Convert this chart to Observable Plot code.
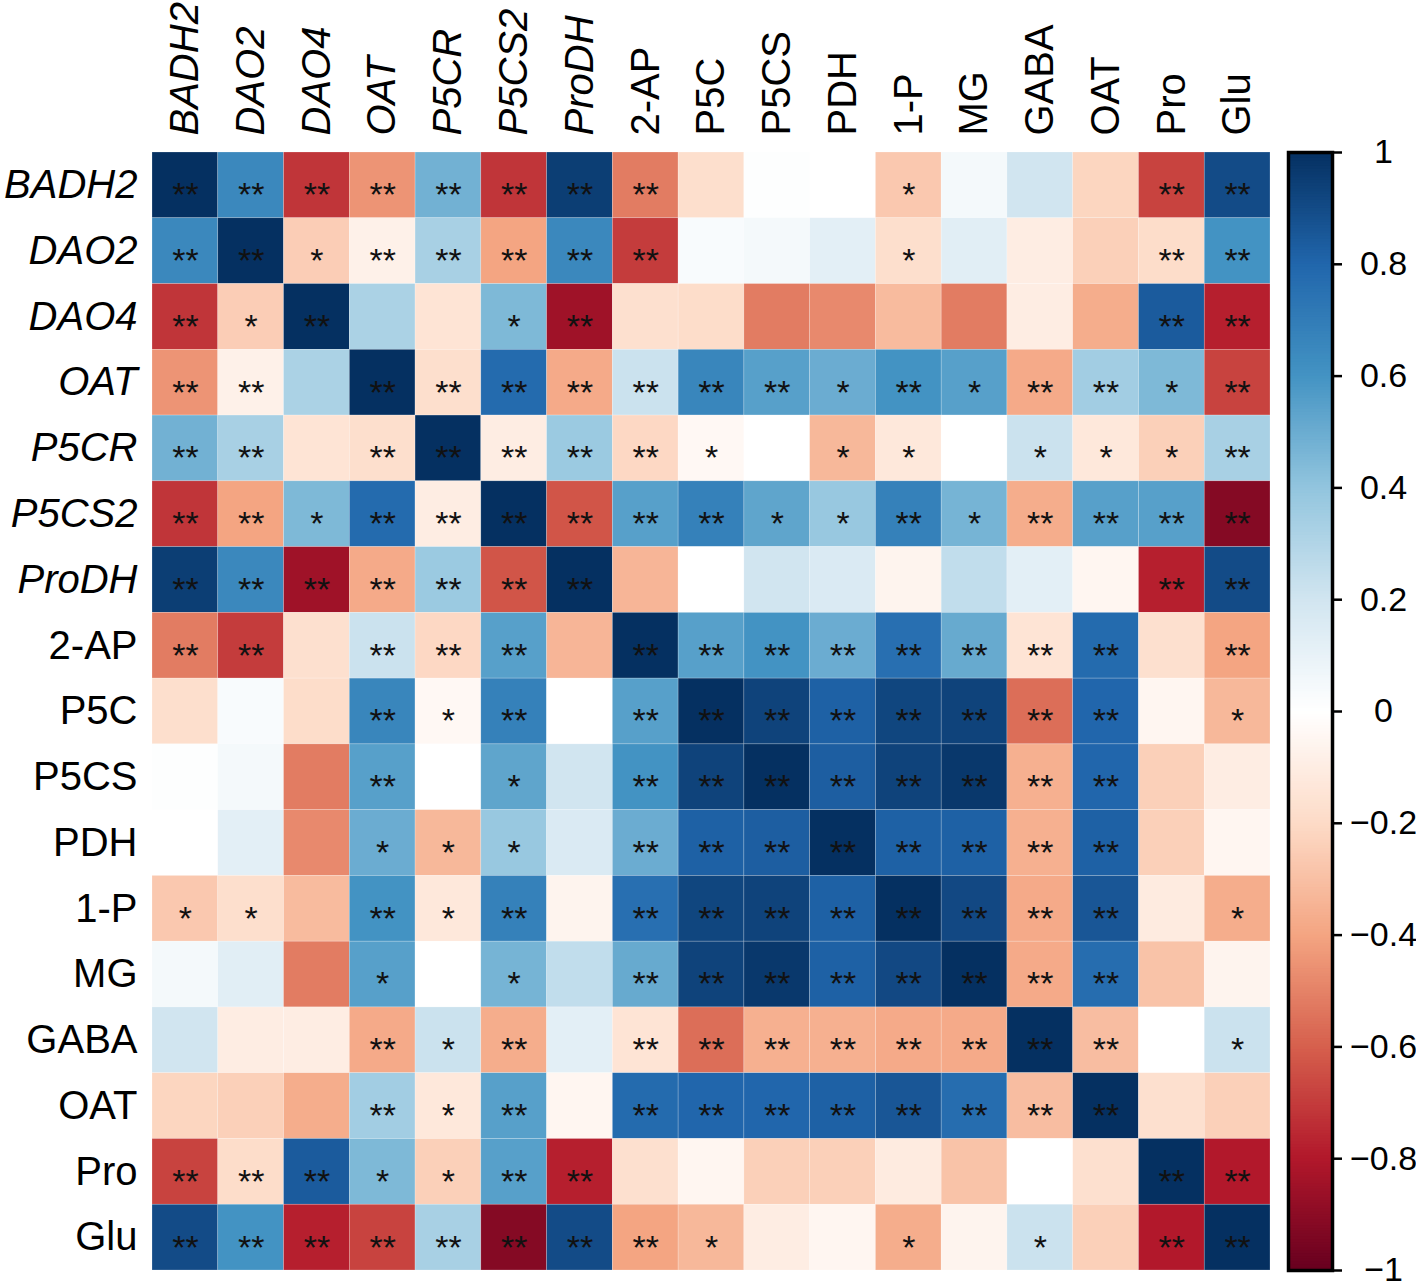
<!DOCTYPE html>
<html><head><meta charset="utf-8">
<script src="https://cdn.jsdelivr.net/npm/d3@7"></script>
<script src="https://cdn.jsdelivr.net/npm/@observablehq/plot@0.6"></script>
<style>
body{margin:0;background:#fff;}
#wrap{position:relative;width:1416px;height:1284px;}
#main{position:absolute;left:0;top:0;}
#cbar{position:absolute;left:1270px;top:0;}
</style></head><body><div id="wrap"><div id="main"></div><div id="cbar"></div></div>
<script>
// Variables (genes italic, metabolites upright)
const genes = ["BADH2","DAO2","DAO4","OAT","P5CR","P5CS2","ProDH"];
const metabolites = ["2-AP","P5C","P5CS","PDH","1-P","MG","GABA","OAT","Pro","Glu"];

// Correlation coefficients, one row per variable (column order = genes then metabolites)
const r_BADH2 = [1, 0.65, -0.72, -0.45, 0.48, -0.72, 0.95, -0.52, -0.18, 0.01, 0, -0.27, 0.05, 0.2, -0.22, -0.68, 0.9];
const r_DAO2  = [0.65, 1, -0.25, -0.08, 0.33, -0.4, 0.65, -0.7, 0.03, 0.05, 0.12, -0.18, 0.13, -0.1, -0.24, -0.19, 0.6];
const r_DAO4  = [-0.72, -0.25, 1, 0.32, -0.15, 0.45, -0.85, -0.17, -0.19, -0.52, -0.48, -0.32, -0.52, -0.1, -0.37, 0.84, -0.78];
const r_OATg  = [-0.45, -0.08, 0.32, 1, -0.18, 0.78, -0.38, 0.22, 0.66, 0.55, 0.5, 0.6, 0.55, -0.38, 0.35, 0.45, -0.68];
const r_P5CR  = [0.48, 0.33, -0.15, -0.18, 1, -0.1, 0.37, -0.21, -0.04, 0, -0.33, -0.13, 0, 0.22, -0.13, -0.24, 0.33];
const r_P5CS2 = [-0.72, -0.4, 0.45, 0.78, -0.1, 1, -0.63, 0.55, 0.68, 0.53, 0.38, 0.68, 0.47, -0.37, 0.55, 0.55, -0.92];
const r_ProDH = [0.95, 0.65, -0.85, -0.38, 0.37, -0.63, 1, -0.34, 0, 0.2, 0.16, -0.06, 0.25, 0.12, -0.05, -0.78, 0.9];
const r_2AP   = [-0.52, -0.7, -0.17, 0.22, -0.21, 0.55, -0.34, 1, 0.55, 0.6, 0.5, 0.76, 0.51, -0.15, 0.78, -0.17, -0.4];
const r_P5C   = [-0.18, 0.03, -0.19, 0.66, -0.04, 0.68, 0, 0.55, 1, 0.93, 0.82, 0.92, 0.93, -0.56, 0.8, -0.05, -0.33];
const r_P5CS  = [0.01, 0.05, -0.52, 0.55, 0, 0.53, 0.2, 0.6, 0.93, 1, 0.83, 0.93, 0.97, -0.36, 0.8, -0.24, -0.1];
const r_PDH   = [0, 0.12, -0.48, 0.5, -0.33, 0.38, 0.16, 0.5, 0.82, 0.83, 1, 0.82, 0.82, -0.36, 0.82, -0.24, -0.05];
const r_1P    = [-0.27, -0.18, -0.32, 0.6, -0.13, 0.68, -0.06, 0.76, 0.92, 0.93, 0.82, 1, 0.91, -0.38, 0.86, -0.11, -0.37];
const r_MG    = [0.05, 0.13, -0.52, 0.55, 0, 0.47, 0.25, 0.51, 0.93, 0.97, 0.82, 0.91, 1, -0.38, 0.77, -0.29, -0.06];
const r_GABA  = [0.2, -0.1, -0.1, -0.38, 0.22, -0.37, 0.12, -0.15, -0.56, -0.36, -0.36, -0.38, -0.38, 1, -0.31, 0, 0.22];
const r_OATm  = [-0.22, -0.24, -0.37, 0.35, -0.13, 0.55, -0.05, 0.78, 0.8, 0.8, 0.82, 0.86, 0.77, -0.31, 1, -0.17, -0.24];
const r_Pro   = [-0.68, -0.19, 0.84, 0.45, -0.24, 0.55, -0.78, -0.17, -0.05, -0.24, -0.24, -0.11, -0.29, 0, -0.17, 1, -0.8];
const r_Glu   = [0.9, 0.6, -0.78, -0.68, 0.33, -0.92, 0.9, -0.4, -0.33, -0.1, -0.05, -0.37, -0.06, 0.22, -0.24, -0.8, 1];

// Significance: 0 = none, 1 = *, 2 = **
const s_BADH2 = [2,2,2,2,2,2,2,2,0,0,0,1,0,0,0,2,2];
const s_DAO2  = [2,2,1,2,2,2,2,2,0,0,0,1,0,0,0,2,2];
const s_DAO4  = [2,1,2,0,0,1,2,0,0,0,0,0,0,0,0,2,2];
const s_OATg  = [2,2,0,2,2,2,2,2,2,2,1,2,1,2,2,1,2];
const s_P5CR  = [2,2,0,2,2,2,2,2,1,0,1,1,0,1,1,1,2];
const s_P5CS2 = [2,2,1,2,2,2,2,2,2,1,1,2,1,2,2,2,2];
const s_ProDH = [2,2,2,2,2,2,2,0,0,0,0,0,0,0,0,2,2];
const s_2AP   = [2,2,0,2,2,2,0,2,2,2,2,2,2,2,2,0,2];
const s_P5C   = [0,0,0,2,1,2,0,2,2,2,2,2,2,2,2,0,1];
const s_P5CS  = [0,0,0,2,0,1,0,2,2,2,2,2,2,2,2,0,0];
const s_PDH   = [0,0,0,1,1,1,0,2,2,2,2,2,2,2,2,0,0];
const s_1P    = [1,1,0,2,1,2,0,2,2,2,2,2,2,2,2,0,1];
const s_MG    = [0,0,0,1,0,1,0,2,2,2,2,2,2,2,2,0,0];
const s_GABA  = [0,0,0,2,1,2,0,2,2,2,2,2,2,2,2,0,1];
const s_OATm  = [0,0,0,2,1,2,0,2,2,2,2,2,2,2,2,0,0];
const s_Pro   = [2,2,2,1,1,2,2,0,0,0,0,0,0,0,0,2,2];
const s_Glu   = [2,2,2,2,2,2,2,2,1,0,0,1,0,1,0,2,2];

const colorbarTicks = [-1, -0.8, -0.6, -0.4, -0.2, 0, 0.2, 0.4, 0.6, 0.8, 1];

const rValues = [r_BADH2,r_DAO2,r_DAO4,r_OATg,r_P5CR,r_P5CS2,r_ProDH,r_2AP,r_P5C,r_P5CS,r_PDH,r_1P,r_MG,r_GABA,r_OATm,r_Pro,r_Glu];
const sValues = [s_BADH2,s_DAO2,s_DAO4,s_OATg,s_P5CR,s_P5CS2,s_ProDH,s_2AP,s_P5C,s_P5CS,s_PDH,s_1P,s_MG,s_GABA,s_OATm,s_Pro,s_Glu];

const geneKeys = genes.map(g => "g:" + g);
const metKeys = metabolites.map(m => "m:" + m);
const keys = [...geneKeys, ...metKeys];
const label = k => k.slice(2);

const cells = [];
rValues.forEach((row, i) => row.forEach((v, j) => cells.push({row: keys[i], col: keys[j], r: v, s: sValues[i][j]})));

const font = '"Liberation Sans", Arial, Helvetica, sans-serif';
// RdBu diverging palette with a pure white midpoint
const rdbu = ["#67001f","#b2182b","#d6604d","#f4a582","#fddbc7","#ffffff","#d1e5f0","#92c5de","#4393c3","#2166ac","#053061"];
const color = {type: "linear", domain: d3.range(11).map(i => -1 + i * 0.2), range: rdbu, interpolate: "rgb", clamp: true};

const axisCommon = {tickSize: 0, fontSize: 40, tickFormat: label, label: null, fill: "black"};

const main = Plot.plot({
  width: 1416, height: 1284,
  marginLeft: 152, marginRight: 146, marginTop: 152, marginBottom: 14,
  style: {fontFamily: font, background: "white"},
  x: {domain: keys, padding: 0, round: false, axis: null},
  y: {domain: keys, padding: 0, round: false, axis: null},
  color,
  marks: [
    Plot.cell(cells, {x: "col", y: "row", fill: "r", stroke: "white", strokeWidth: 0.6, strokeOpacity: 0.35}),
    Plot.text(cells.filter(d => d.s > 0), {x: "col", y: "row", text: d => "*".repeat(d.s), fontSize: 34, fill: "#111", dy: 10}),
    Plot.axisY(geneKeys, {...axisCommon, anchor: "left", tickPadding: 15, fontStyle: "italic"}),
    Plot.axisY(metKeys, {...axisCommon, anchor: "left", tickPadding: 15}),
    Plot.axisX(geneKeys, {...axisCommon, anchor: "top", tickRotate: -90, tickPadding: 17, fontStyle: "italic"}),
    Plot.axisX(metKeys, {...axisCommon, anchor: "top", tickRotate: -90, tickPadding: 17})
  ]
});
document.getElementById("main").appendChild(main);

// Colour bar (legend)
const step = 0.005;
const bands = d3.range(-1, 1, step);
const fmt = d => (d < 0 ? "\u2212" : "") + String(Math.abs(d));
const cbar = Plot.plot({
  width: 146, height: 1284,
  marginLeft: 18, marginRight: 84, marginTop: 152, marginBottom: 14,
  style: {fontFamily: font, background: "transparent", overflow: "visible"},
  x: {domain: [0, 1], axis: null},
  y: {domain: [-1, 1], axis: null},
  color,
  marks: [
    Plot.rect(bands, {x1: 0, x2: 1, y1: d => d, y2: d => Math.min(1, d + step * 1.6), fill: d => d + step / 2}),
    Plot.frame({stroke: "black", strokeWidth: 3.5}),
    Plot.axisY(colorbarTicks, {anchor: "right", tickSize: 9, strokeWidth: 2.5, tickFormat: () => "", label: null}),
    Plot.text(colorbarTicks, {y: d => d, frameAnchor: "right", dx: 51, textAnchor: "middle", text: fmt, fontSize: 34, fill: "black"})
  ]
});
document.getElementById("cbar").appendChild(cbar);
</script>
</body></html>
